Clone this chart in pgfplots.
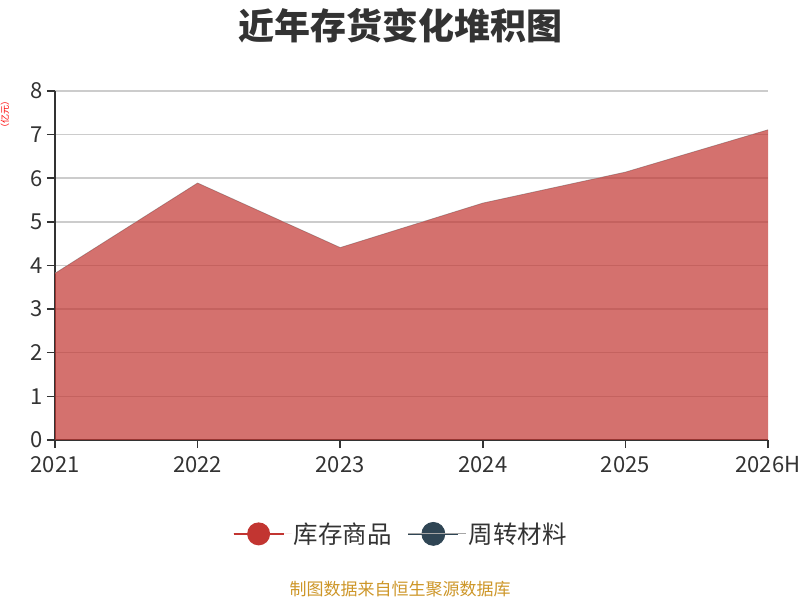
\documentclass[border=0pt]{standalone}
\usepackage{fontspec}
\setmainfont{Noto Sans CJK SC}
\usepackage{pgfplots}
\pgfplotsset{compat=1.18}
\definecolor{txt}{HTML}{333333}
\definecolor{redA}{HTML}{C23531}
\definecolor{navyA}{HTML}{2F4554}
\definecolor{gridc}{HTML}{CCCCCC}
\definecolor{foot}{RGB}{205,150,40}
\begin{document}
\begin{tikzpicture}
\useasboundingbox (0,0) rectangle (800bp,600bp);
\begin{axis}[
  at={(55bp,160bp)}, anchor=south west,
  scale only axis, width=713bp, height=349bp,
  xmin=0, xmax=5, ymin=0, ymax=8,
  axis lines*=left,
  axis line style={txt, line width=1.5bp, -},
  xtick={0,1,2,3,4,5},
  xticklabels={2021,2022,2023,2024,2025,2026H},
  ytick={0,1,...,8},
  tick align=outside,
  major tick length=8bp,
  tick style={txt, line width=1.5bp},
  ymajorgrids,
  grid style={gridc, line width=1.5bp},
  /pgf/number format/assume math mode=true,
  tick label style={font=\fontsize{22bp}{24bp}\selectfont, text=txt},
  yticklabel style={xshift=-1bp},
  xticklabel style={yshift=-5bp},
  stack plots=y,
  legend columns=2,
  legend style={at={(0.485,-0.269)}, anchor=center, draw=none, fill=none,
    font=\fontsize{24.5bp}{26bp}\selectfont, text=txt,
    /tikz/every even column/.append style={column sep=14bp}},
  legend cell align=left,
]
\addplot[fill=redA, fill opacity=0.7, draw=none,
  legend image code/.code={
    \draw[redA, line width=1.5bp, opacity=1] (0bp,0bp) -- (50bp,0bp);
    \fill[redA, fill opacity=1] (25bp,0bp) circle (11.5bp);
    \path (0bp,0bp) -- (58bp,0bp);}]
  coordinates {(0,3.82) (1,5.89) (2,4.41) (3,5.43) (4,6.14) (5,7.11)} \closedcycle;
\addlegendentry{库存商品}
\addplot[draw=gray!70, line width=0.8bp, no marks,
  legend image code/.code={
    \draw[navyA, line width=1.5bp] (0bp,0bp) -- (50bp,0bp);
    \fill[navyA] (25bp,0bp) circle (11.5bp);
    \path (0bp,0bp) -- (58bp,0bp);}]
  coordinates {(0,0) (1,0) (2,0) (3,0) (4,0) (5,0)};
\addlegendentry{周转材料}
\end{axis}
\node[font=\fontsize{36bp}{40bp}\selectfont\bfseries, text=txt] at (400bp,574bp) {近年存货变化堆积图};
\node[font=\fontsize{17bp}{20bp}\selectfont, text=foot] at (400bp,11bp) {制图数据来自恒生聚源数据库};
\node[rotate=90, font=\fontsize{9bp}{10bp}\selectfont, text=red, inner sep=0pt] at (5bp,485bp) {（亿元）};
\end{tikzpicture}
\end{document}
